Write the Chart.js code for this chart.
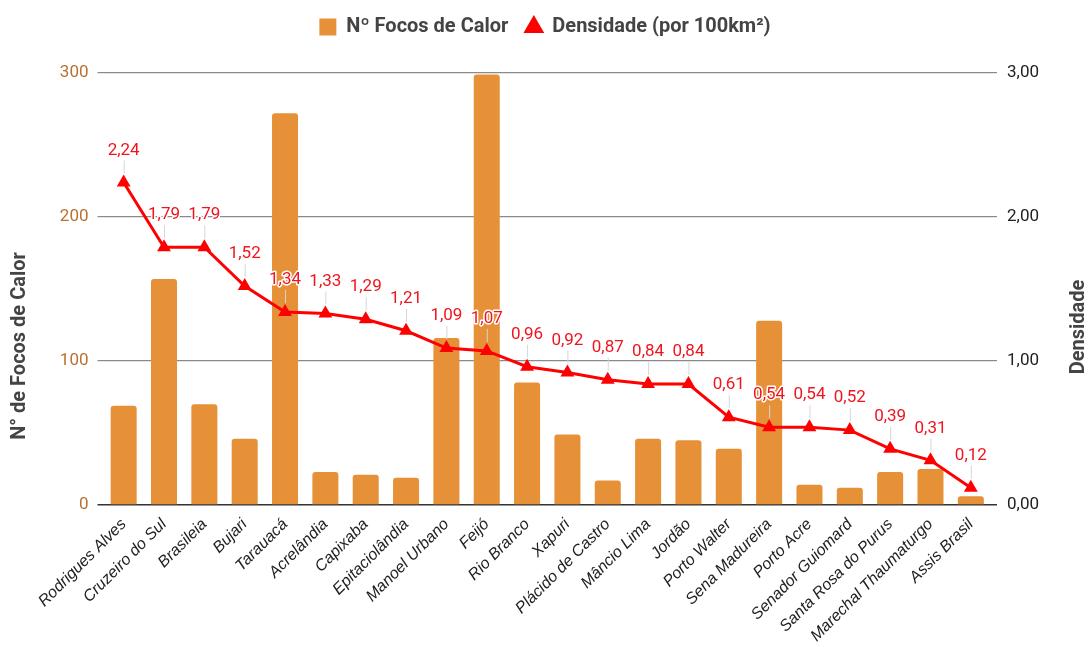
<!DOCTYPE html>
<html><head><meta charset="utf-8">
<script src="https://cdn.jsdelivr.net/npm/chart.js@4.4.1/dist/chart.umd.min.js"></script>
<style>html,body{margin:0;padding:0;background:#fff}#wrap{width:1090px;height:647px}</style>
</head><body><div id="wrap"><canvas id="c" width="1090" height="647"></canvas></div>
<script>
const categories = ["Rodrigues Alves","Cruzeiro do Sul","Brasileia","Bujari","Tarauacá","Acrelândia","Capixaba","Epitaciolândia","Manoel Urbano","Feijó","Rio Branco","Xapuri","Plácido de Castro","Mâncio Lima","Jordão","Porto Walter","Sena Madureira","Porto Acre","Senador Guiomard","Santa Rosa do Purus","Marechal Thaumaturgo","Assis Brasil"];
const focos = [69,157,70,46,272,23,21,19,116,299,85,49,17,46,45,39,128,14,12,23,25,6];
const densidade = [2.24,1.79,1.79,1.52,1.34,1.33,1.29,1.21,1.09,1.07,0.96,0.92,0.87,0.84,0.84,0.61,0.54,0.54,0.52,0.39,0.31,0.12];
const leftTicks = [0,100,200,300];
const rightTicks = [0,1,2,3];
const seriesNames = ["Nº Focos de Calor","Densidade (por 100km²)"];
const axisTitles = ["N° de Focos de Calor","Densidade"];

const fmt = v => v.toFixed(2).replace('.', ',');
const gridColor = c => (c.tick && c.tick.value === 0) ? '#333333' : '#8a8a8a';
const gridWidth = c => (c.tick && c.tick.value === 0) ? 1.5 : 1.2;

const helper = {
  id: 'helper',
  beforeLayout(chart) {
    const lg = chart.legend;
    if (lg && !lg._patched) {
      const orig = lg.fit.bind(lg);
      lg.fit = function () { orig(); this.height = 73; };
      lg._patched = true;
    }
  },
  afterDatasetsDraw(chart) {
    const ctx = chart.ctx;
    const meta = chart.getDatasetMeta(1);
    ctx.save();
    ctx.font = '17px Roboto';
    ctx.textAlign = 'center';
    ctx.textBaseline = 'middle';
    meta.data.forEach((pt, i) => {
      const x = pt.x, y = pt.y, ly = y - 32;
      ctx.strokeStyle = '#d6d6d6';
      ctx.lineWidth = 1;
      ctx.beginPath(); ctx.moveTo(x + 0.5, ly + 10); ctx.lineTo(x + 0.5, y - 9); ctx.stroke();
      const t = fmt(densidade[i]);
      ctx.lineWidth = 3; ctx.lineJoin = 'round'; ctx.strokeStyle = '#ffffff';
      ctx.strokeText(t, x, ly);
      ctx.fillStyle = '#f0141e';
      ctx.fillText(t, x, ly);
    });
    ctx.restore();
  },
  afterDraw(chart) {
    const ctx = chart.ctx;
    const draw = (t, x, y) => {
      ctx.save();
      ctx.font = 'bold 20px Roboto';
      ctx.fillStyle = '#444444';
      ctx.textAlign = 'center';
      ctx.textBaseline = 'middle';
      ctx.translate(x, y); ctx.rotate(-Math.PI / 2); ctx.fillText(t, 0, 0);
      ctx.restore();
    };
    draw(axisTitles[0], 20, 346);
    draw(axisTitles[1], 1079, 327);
  }
};

new Chart(document.getElementById('c'), {
  data: {
    labels: categories,
    datasets: [
      {
        type: 'bar', label: seriesNames[0], data: focos, yAxisID: 'y',
        backgroundColor: '#e69138', borderWidth: 0, order: 1,
        barPercentage: 0.645, categoryPercentage: 1,
        borderRadius: {topLeft: 3, topRight: 3, bottomLeft: 0, bottomRight: 0}, borderSkipped: 'start',
        pointStyle: 'rect'
      },
      {
        type: 'line', label: seriesNames[1], data: densidade, yAxisID: 'y1',
        borderColor: '#ff0000', backgroundColor: '#ff0000', borderWidth: 3, order: 0,
        pointStyle: 'triangle', pointRadius: 8, pointBackgroundColor: '#ff0000', pointBorderColor: '#ff0000',
        pointBorderWidth: 0, tension: 0
      }
    ]
  },
  options: {
    responsive: false, animation: false, devicePixelRatio: 1,
    layout: {padding: 0},
    plugins: {
      tooltip: {enabled: false},
      legend: {
        position: 'top', align: 'center',
        labels: {
          usePointStyle: true, boxWidth: 17, boxHeight: 17, padding: 17,
          font: {family: 'Roboto', size: 20, weight: 'bold'}, color: '#444444',
          sort: (a, b) => a.datasetIndex - b.datasetIndex
        }
      }
    },
    scales: {
      x: {
        grid: {display: false}, border: {display: false},
        ticks: {autoSkip: false, maxRotation: 45, minRotation: 45, padding: 2,
          font: {family: 'Liberation Sans', size: 16, style: 'italic'}, color: '#222222'},
        afterFit(s) { s.height = 142; }
      },
      y: {
        position: 'left', min: 0, max: 300,
        afterBuildTicks(s) { s.ticks = leftTicks.map(v => ({value: v})); },
        ticks: {padding: 9, font: {family: 'Roboto', size: 17}, color: '#b8712f', callback: v => String(v)},
        grid: {color: gridColor, lineWidth: gridWidth, tickLength: 6},
        border: {display: false},
        afterFit(s) { s.width = 103.5; }
      },
      y1: {
        position: 'right', min: 0, max: 3,
        afterBuildTicks(s) { s.ticks = rightTicks.map(v => ({value: v})); },
        ticks: {padding: 10, font: {family: 'Roboto', size: 17}, color: '#222222', callback: v => fmt(v)},
        grid: {drawOnChartArea: false, drawTicks: true, tickLength: 6, color: gridColor, lineWidth: gridWidth},
        border: {display: false},
        afterFit(s) { s.width = 99; }
      }
    }
  },
  plugins: [helper]
});
</script>
</body></html>
